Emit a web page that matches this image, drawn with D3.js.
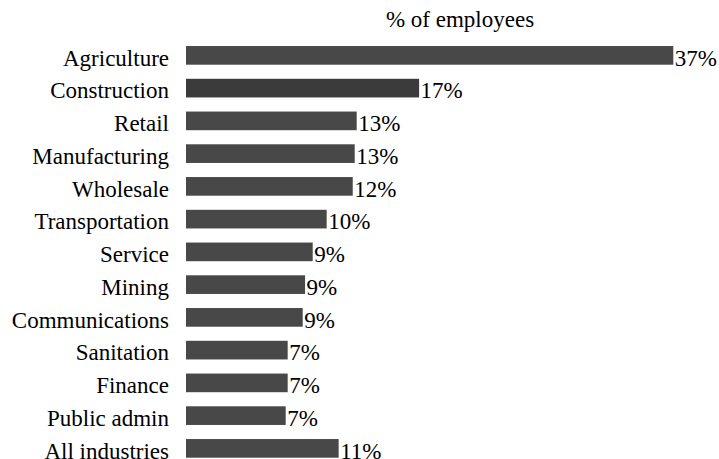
<!DOCTYPE html>
<html>
<head>
<meta charset="utf-8">
<script src="https://cdn.jsdelivr.net/npm/d3@7/dist/d3.min.js"></script>
</head>
<body style="margin:0">
<svg id="c" width="719" height="459" font-family="Times New Roman" font-size="23"></svg>
<script>
const categories = ["Agriculture", "Construction", "Retail", "Manufacturing", "Wholesale",
  "Transportation", "Service", "Mining", "Communications", "Sanitation", "Finance",
  "Public admin", "All industries"];
const values = [37.0, 17.7, 12.96, 12.81, 12.66, 10.68, 9.62, 9.04, 8.86, 7.72, 7.72, 7.57, 11.59];
const valueLabels = ["37%", "17%", "13%", "13%", "12%", "10%", "9%", "9%", "9%", "7%", "7%", "7%", "11%"];
const title = "% of employees";

const svg = d3.select("#c");
const x = d3.scaleLinear().domain([0, 37]).range([186, 673.3]);
const y = d3.scaleBand().domain(categories).range([39, 464.75]).paddingInner(0.43).paddingOuter(0.215);

const data = categories.map((c, i) => ({ c, v: values[i], l: valueLabels[i] }));

svg.append("text")
  .attr("x", 460).attr("y", 27)
  .attr("text-anchor", "middle")
  .text(title);

svg.append("g").selectAll("rect").data(data).join("rect")
  .attr("x", x(0))
  .attr("y", d => y(d.c))
  .attr("width", d => x(d.v) - x(0))
  .attr("height", y.bandwidth())
  .attr("fill", d => d.c === "Construction" ? "#3b3b3b" : "#484848");

svg.append("g").selectAll("text").data(data).join("text")
  .attr("x", 169)
  .attr("y", d => y(d.c) + y.bandwidth() + 1)
  .attr("text-anchor", "end")
  .text(d => d.c);

svg.append("g").selectAll("text").data(data).join("text")
  .attr("x", d => x(d.v) + 1.5)
  .attr("y", d => y(d.c) + y.bandwidth() + 1)
  .text(d => d.l);
</script>
</body>
</html>
